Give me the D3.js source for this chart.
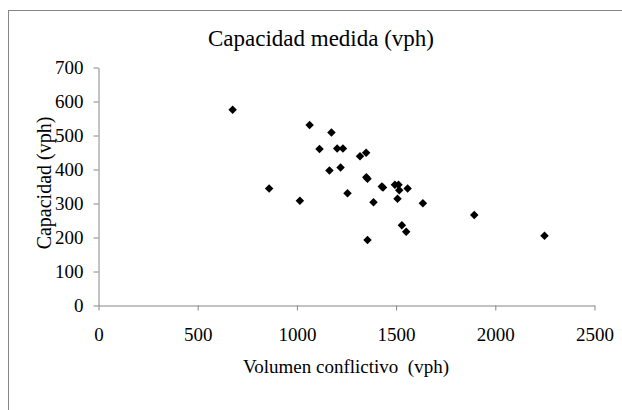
<!DOCTYPE html>
<html>
<head>
<meta charset="utf-8">
<script src="https://cdn.jsdelivr.net/npm/d3@7/dist/d3.min.js"></script>
<style>
  html, body { margin: 0; padding: 0; background: #fff; }
  svg { display: block; font-family: "Liberation Serif", "Times New Roman", serif; }
</style>
</head>
<body>
<svg id="chart" width="622" height="410"></svg>
<script>
// ---- Data ----
const volumen = [676, 860, 1015, 1064, 1114, 1174, 1164, 1203, 1232, 1220,
  1255, 1318, 1349, 1350, 1356, 1386, 1356, 1428, 1434, 1494,
  1512, 1516, 1507, 1558, 1635, 1894, 1529, 1551, 2248];
const capacidad = [576, 344, 308, 531, 460, 509, 397, 462, 462, 406,
  330, 439, 449, 377, 373, 304, 193, 350, 347, 355,
  355, 339, 314, 344, 301, 266, 236, 217, 205];
const xTicks = [0, 500, 1000, 1500, 2000, 2500];
const yTicks = [0, 100, 200, 300, 400, 500, 600, 700];

const points = volumen.map((v, i) => ({ x: v, y: capacidad[i] }));

const svg = d3.select("#chart");
const axisColor = "#868686";
const serif = "Liberation Serif, Times New Roman, serif";

// outer chart frame
svg.append("rect")
  .attr("x", 8.5).attr("y", 10.5)
  .attr("width", 640).attr("height", 440)
  .attr("fill", "none").attr("stroke", axisColor);

// ---- Scales ----
const x = d3.scaleLinear().domain([0, 2500]).range([98.5, 594.5]);
const y = d3.scaleLinear().domain([0, 700]).range([305.5, 67.5]);

// ---- Axes ----
const gx = svg.append("g")
  .attr("transform", `translate(0,${y(0)})`)
  .call(d3.axisBottom(x).tickValues(xTicks).tickFormat(d3.format("d"))
    .tickSize(5).tickPadding(17).tickSizeOuter(0));
const gy = svg.append("g")
  .attr("transform", `translate(${x(0)},0)`)
  .call(d3.axisLeft(y).tickValues(yTicks).tickFormat(d3.format("d"))
    .tickSize(5).tickPadding(10).tickSizeOuter(0));

[gx, gy].forEach(g => {
  g.attr("font-family", serif).attr("font-size", 19);
  g.select(".domain").attr("stroke", axisColor);
  g.selectAll(".tick line").attr("stroke", axisColor);
  g.selectAll(".tick text").attr("fill", "#000");
});
gx.selectAll(".tick text").attr("dy", "0.71em");

// ---- Points ----
svg.append("g")
  .selectAll("path")
  .data(points)
  .join("path")
  .attr("transform", d => `translate(${x(d.x)},${y(d.y)})`)
  .attr("d", d3.symbol(d3.symbolDiamond2, 46))
  .attr("fill", "#000");

// ---- Titles ----
svg.append("text")
  .attr("x", 321).attr("y", 46)
  .attr("text-anchor", "middle")
  .attr("font-size", 23)
  .text("Capacidad medida (vph)");

svg.append("text")
  .attr("x", 346).attr("y", 373)
  .attr("text-anchor", "middle")
  .attr("font-size", 19)
  .text("Volumen conflictivo \u00a0(vph)");

svg.append("text")
  .attr("transform", "translate(51,183) rotate(-90)")
  .attr("text-anchor", "middle")
  .attr("font-size", 20)
  .text("Capacidad (vph)");
</script>
</body>
</html>
